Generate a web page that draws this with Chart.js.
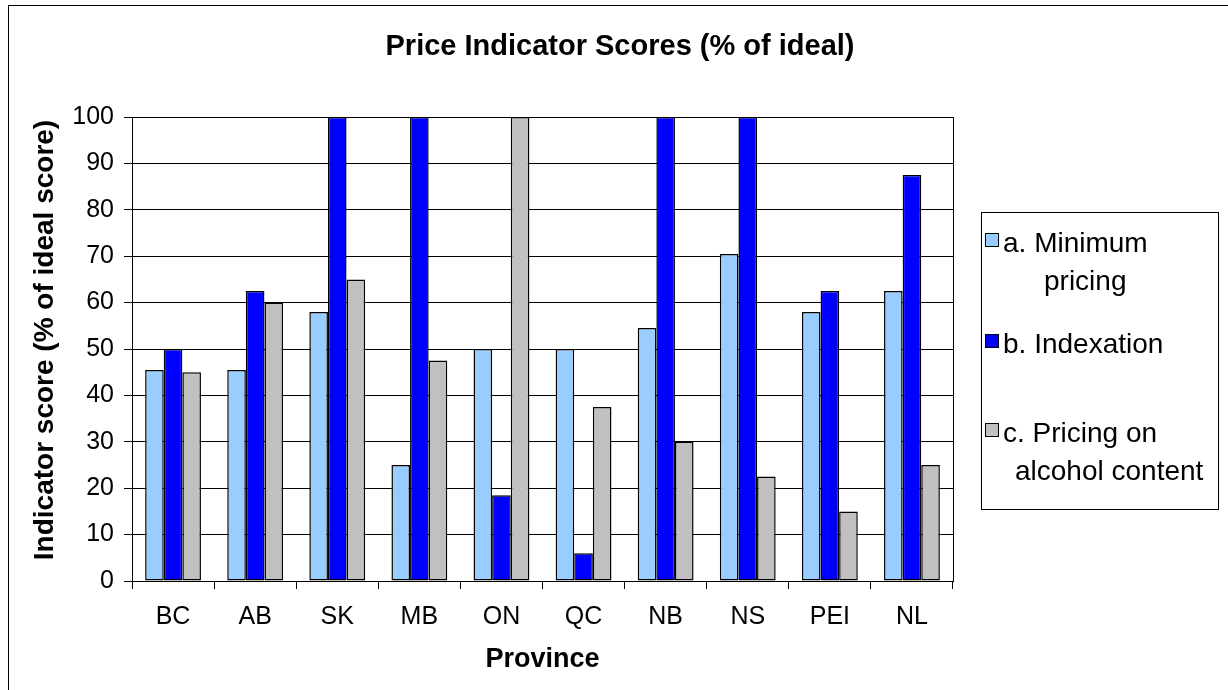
<!DOCTYPE html>
<html>
<head>
<meta charset="utf-8">
<script src="https://cdn.jsdelivr.net/npm/chart.js@4/dist/chart.umd.min.js"></script>
<style>
  body { margin: 0; background: #fff; }
  #wrap { width: 1228px; height: 690px; }
</style>
</head>
<body>
<div id="wrap"><canvas id="chart"></canvas></div>
<script>
const provinces = ['BC', 'AB', 'SK', 'MB', 'ON', 'QC', 'NB', 'NS', 'PEI', 'NL'];
const minimumPricing = [45.5, 45.5, 58, 25, 50, 50, 54.5, 70.5, 58, 62.5];
const indexation = [50, 62.5, 100, 100, 18.5, 6, 100, 100, 62.5, 87.5];
const alcoholContent = [45, 60, 65, 47.5, 100, 37.5, 30, 22.5, 15, 25];
const yTicks = [0, 10, 20, 30, 40, 50, 60, 70, 80, 90, 100];

const FONT = 'Liberation Sans, Arial, sans-serif';

// outer frame, plot box, titles and the boxed legend
const decor = {
  id: 'decor',
  afterDraw(chart) {
    const ctx = chart.ctx;
    const a = chart.chartArea;
    ctx.save();
    ctx.strokeStyle = '#000';
    ctx.lineWidth = 1;
    ctx.strokeRect(8.5, 5.5, 1300, 800);
    ctx.strokeRect(Math.round(a.left) + 0.5, Math.round(a.top) + 0.5,
      Math.round(a.right - a.left), Math.round(a.bottom - a.top));

    ctx.fillStyle = '#000';
    ctx.font = 'bold 29px ' + FONT;
    ctx.textAlign = 'center';
    ctx.textBaseline = 'alphabetic';
    ctx.fillText('Price Indicator Scores (% of ideal)', 620, 55);

    // y axis title, a little above the plot centre as in the original
    ctx.save();
    ctx.translate(53, 340);
    ctx.rotate(-Math.PI / 2);
    ctx.font = 'bold 28px ' + FONT;
    ctx.fillText('Indicator score (% of ideal score)', 0, 0);
    ctx.restore();

    // legend
    ctx.strokeRect(981.5, 212.5, 237, 297);
    ctx.font = '28px ' + FONT;
    ctx.textAlign = 'left';
    const rows = [
      { lines: ['a. Minimum', 'pricing'], y: 252, indent: 1044 },
      { lines: ['b. Indexation'], y: 353 },
      { lines: ['c. Pricing on', 'alcohol content'], y: 442, indent: 1015 }
    ];
    chart.data.datasets.forEach((ds, i) => {
      const r = rows[i];
      ctx.fillStyle = ds.backgroundColor;
      ctx.fillRect(985, r.y - 19, 14, 14);
      ctx.strokeRect(985.5, r.y - 18.5, 13, 13);
      ctx.fillStyle = '#000';
      ctx.fillText(r.lines[0], 1003, r.y);
      if (r.lines[1]) ctx.fillText(r.lines[1], r.indent, r.y + 38);
    });
    ctx.restore();
  }
};

new Chart(document.getElementById('chart'), {
  type: 'bar',
  data: {
    labels: provinces,
    datasets: [
      { label: 'a. Minimum pricing', data: minimumPricing, backgroundColor: '#99CCFF' },
      { label: 'b. Indexation', data: indexation, backgroundColor: '#0000FF' },
      { label: 'c. Pricing on alcohol content', data: alcoholContent, backgroundColor: '#C0C0C0' }
    ]
  },
  options: {
    responsive: true,
    maintainAspectRatio: false,
    animation: false,
    layout: { padding: { left: 10, right: 275, top: 117, bottom: 0 } },
    datasets: {
      bar: {
        categoryPercentage: 0.68,
        barPercentage: 1.0,
        borderColor: '#000',
        borderWidth: 1.5,
        borderSkipped: false
      }
    },
    scales: {
      x: {
        grid: { drawOnChartArea: false, drawTicks: true, tickLength: 8, color: '#000' },
        border: { color: '#000', width: 1 },
        ticks: { color: '#000', font: { family: FONT, size: 25 }, padding: 13 },
        title: {
          display: true, text: 'Province', color: '#000',
          font: { family: FONT, size: 27, weight: 'bold' },
          padding: { top: 0, bottom: 14 }
        },
        afterFit(scale) { scale.height = 109; }
      },
      y: {
        min: 0,
        max: 100,
        afterBuildTicks(scale) { scale.ticks = yTicks.map(v => ({ value: v })); },
        grid: { color: '#000', tickLength: 8 },
        border: { color: '#000', width: 1 },
        ticks: { color: '#000', font: { family: FONT, size: 25 }, padding: 10 },
        title: { display: false },
        afterFit(scale) { scale.width = 122; }
      }
    },
    plugins: {
      legend: { display: false },
      title: { display: false },
      tooltip: { enabled: false }
    }
  },
  plugins: [decor]
});
</script>
</body>
</html>
